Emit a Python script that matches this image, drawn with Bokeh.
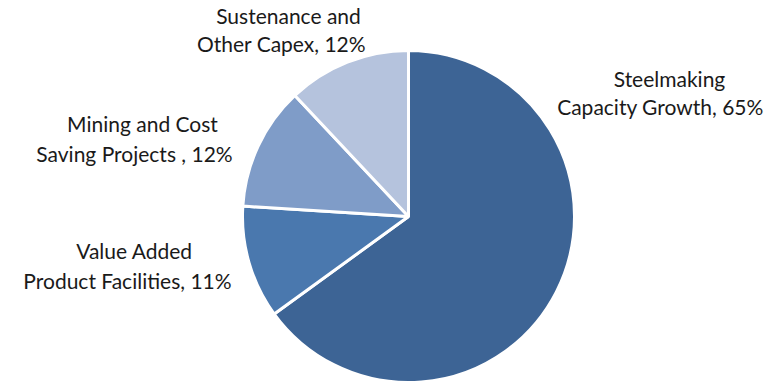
from bokeh.plotting import figure
from bokeh.models import Range1d, ColumnDataSource
from bokeh.core.properties import value
from bokeh.embed import file_html
from bokeh.resources import INLINE
import math

# Data
categories = ["Steelmaking Capacity Growth", "Value Added Product Facilities",
              "Mining and Cost Saving Projects ", "Sustenance and Other Capex"]
shares = [65, 11, 12, 12]
colors = ["#3d6495", "#4a78ae", "#7f9cc8", "#b5c3dd"]
label_lines = [
    ["Steelmaking", "Capacity Growth, 65%"],
    ["Value Added", "Product Facilities, 11%"],
    ["Mining and Cost", "Saving Projects , 12%"],
    ["Sustenance and", "Other Capex, 12%"],
]

W, H = 784, 383
# layout (pixel positions in the picture)
def sx(x): return x
def sy(y): return H - y

cx, cy, R = sx(408), sy(216), 166
label_pos = [  # centers of each line
    [(669, 78), (660, 106)],
    [(134, 250), (127, 280)],
    [(142, 123), (134, 153)],
    [(288, 15), (281, 43)],
]

p = figure(width=W, height=H, output_backend="svg", toolbar_location=None,
           x_range=Range1d(0, W), y_range=Range1d(0, H), min_border=0)
p.axis.visible = False
p.grid.visible = False
p.outline_line_color = None
p.background_fill_color = "white"

total = sum(shares)
starts, ends = [], []
a = math.pi / 2
for s in shares:
    b = a - 2 * math.pi * s / total
    starts.append(a)
    ends.append(b)
    a = b

src = ColumnDataSource(dict(x=[cx] * len(shares), y=[cy] * len(shares),
                            start=starts, end=ends, color=colors, name=categories))
p.wedge(x="x", y="y", radius=R, radius_units="screen", start_angle="start",
        end_angle="end", direction="clock", fill_color="color",
        line_color="white", line_width=3, source=src)

tx, ty, tt = [], [], []
for lines, poss in zip(label_lines, label_pos):
    for t, (x, y) in zip(lines, poss):
        tx.append(sx(x)); ty.append(sy(y)); tt.append(t)
p.text(x=tx, y=ty, text=tt, text_align="center", text_baseline="middle",
       text_font=value("Lato"), text_font_size="21px", text_color="#1a1a1a")

open("out.html", "w").write(file_html(p, INLINE))
